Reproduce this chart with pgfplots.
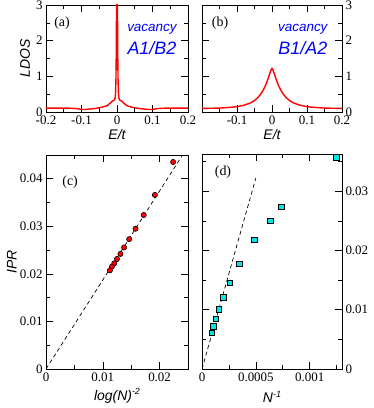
\documentclass[border=0pt]{standalone}
\usepackage{pgfplots}
\pgfplotsset{compat=1.18}
\usepackage{fontspec}
\setmainfont{Liberation Serif}
\newfontfamily\hv{Liberation Sans}
\definecolor{cyn}{RGB}{0,230,230}
\definecolor{rd}{RGB}{255,0,0}
\definecolor{bl}{RGB}{0,0,255}

\pgfplotsset{
  panel/.style={
    scale only axis,
    axis line style={black, line width=0.8pt},
    tick style={black, line width=0.6pt},
    major tick length=7bp, minor tick length=4bp,
    tick align=inside,
    xtick pos=both, ytick pos=both,
    xticklabel pos=bottom,
    scaled ticks=false,
    /pgf/number format/assume math mode=true,
    /pgf/number format/fixed,
    /pgf/number format/precision=4,
    tick label style={font=\fontsize{13}{15}\selectfont},
    every axis x label/.style={at={(axis description cs:0.5,#1)}, anchor=center,
      font=\hv\itshape\fontsize{14}{16}\selectfont},
  },
  panel/.default={-0.215},
  ylab/.style={every axis y label/.style={at={(axis description cs:#1,0.5)},
      rotate=90, anchor=center, font=\hv\itshape\fontsize{14}{16}\selectfont}},
}
\tikzset{
  tag/.style={font=\fontsize{14}{16}\selectfont, anchor=center},
  vac/.style={font=\hv\itshape\fontsize{13.5}{15}\selectfont, text=bl, anchor=center},
  vacb/.style={font=\hv\itshape\fontsize{18}{20}\selectfont, text=bl, anchor=center},
}

\begin{document}
\begin{tikzpicture}
\useasboundingbox (-46bp,-39bp) rectangle (328bp,369bp);

% (a)
\begin{axis}[panel, at={(0bp,257bp)}, anchor=south west,
  width=142bp, height=107bp,
  xmin=-0.2, xmax=0.2, ymin=0, ymax=3,
  xtick={-0.2,-0.1,0,0.1,0.2}, minor xtick={-0.15,-0.05,0.05,0.15},
  ytick={0,1,2,3}, minor ytick={0.5,1.5,2.5},
  xticklabels={-0.2,-0.1,0,0.1,0.2},
  yticklabel pos=left,
  xlabel={E/t}, ylabel={LDOS}, ylab=-0.148,
]
\addplot[rd, line width=1.4pt] coordinates {
(-0.2,0.11) (-0.18,0.11) (-0.16,0.11) (-0.14,0.11) (-0.12,0.10) (-0.11,0.09)
(-0.1,0.07) (-0.09,0.07) (-0.08,0.08) (-0.07,0.09) (-0.06,0.10) (-0.05,0.12)
(-0.04,0.14) (-0.03,0.17) (-0.025,0.2) (-0.02,0.24) (-0.016,0.28) (-0.013,0.31)
(-0.01,0.32) (-0.007,0.34) (-0.005,0.42) (-0.004,0.55) (-0.003,0.9) (-0.002,1.7)
(-0.001,3.6) (0,6) (0.001,3.6) (0.002,1.7) (0.003,0.9) (0.004,0.55) (0.005,0.42)
(0.007,0.34) (0.01,0.32) (0.013,0.31) (0.016,0.28) (0.02,0.24) (0.025,0.2)
(0.03,0.17) (0.04,0.14) (0.05,0.12) (0.06,0.10) (0.07,0.09) (0.08,0.08)
(0.09,0.07) (0.1,0.07) (0.11,0.09) (0.12,0.10) (0.14,0.11) (0.16,0.11)
(0.18,0.11) (0.2,0.11)};
\node[tag] at (rel axis cs:0.113,0.83) {(a)};
\node[vac] at (rel axis cs:0.746,0.776) {vacancy};
\node[vacb] at (rel axis cs:0.746,0.60) {A1/B2};
\end{axis}

% (b)
\begin{axis}[panel, at={(156bp,257bp)}, anchor=south west,
  width=140bp, height=107bp,
  xmin=-0.2, xmax=0.2, ymin=0, ymax=3,
  xtick={-0.2,-0.1,0,0.1,0.2}, minor xtick={-0.15,-0.05,0.05,0.15},
  ytick={0,1,2,3}, minor ytick={0.5,1.5,2.5},
  xticklabels={,-0.1,0,0.1,0.2},
  yticklabel pos=right,
  xlabel={E/t},
]
\addplot[rd, line width=1.4pt] coordinates {
(-0.2,0.10) (-0.15,0.11) (-0.12,0.13) (-0.1,0.15) (-0.08,0.19) (-0.06,0.26)
(-0.05,0.32) (-0.04,0.41) (-0.03,0.53) (-0.02,0.71) (-0.015,0.83) (-0.01,0.97)
(-0.006,1.09) (-0.003,1.17) (0,1.22) (0.003,1.17) (0.006,1.09) (0.01,0.97)
(0.015,0.83) (0.02,0.71) (0.03,0.53) (0.04,0.41) (0.05,0.32) (0.06,0.26)
(0.08,0.19) (0.1,0.15) (0.12,0.13) (0.15,0.11) (0.2,0.10)};
\node[tag] at (rel axis cs:0.129,0.83) {(b)};
\node[vac] at (rel axis cs:0.72,0.776) {vacancy};
\node[vacb] at (rel axis cs:0.72,0.60) {B1/A2};
\end{axis}

% (c)
\begin{axis}[panel=-0.126, at={(0bp,0bp)}, anchor=south west,
  width=142bp, height=214bp,
  xmin=0, xmax=0.025, ymin=0, ymax=0.045,
  xtick={0,0.01,0.02}, minor xtick={0.005,0.015,0.025},
  ytick={0,0.01,0.02,0.03,0.04}, minor ytick={0.005,0.015,0.025,0.035},
  xticklabels={0,0.01,0.02}, yticklabels={0,0.01,0.02,0.03,0.04},
  yticklabel pos=left,
  xlabel={log(N)\raisebox{0.8ex}{\fontsize{9}{10}\selectfont -2}}, ylabel={IPR}, ylab=-0.24,
]
\addplot[black, line width=0.7pt, dash pattern=on 4pt off 3pt] coordinates {(0,0) (0.025,0.0468)};
\addplot[only marks, mark=*, mark size=2.6bp, mark options={fill=rd, draw=black, line width=0.6pt}] coordinates {
(0.02238,0.04353) (0.01917,0.03661) (0.01720,0.03238) (0.01577,0.02949)
(0.01464,0.02730) (0.01375,0.02554) (0.01310,0.02420) (0.01250,0.02314)
(0.01202,0.02222) (0.01161,0.02152) (0.01125,0.02074)};
\node[tag] at (rel axis cs:0.17,0.874) {(c)};
\end{axis}

% (d)
\begin{axis}[panel=-0.13, at={(156bp,0bp)}, anchor=south west,
  width=140bp, height=215bp,
  xmin=0, xmax=0.0013, ymin=0, ymax=0.0363,
  xtick={0,0.0005,0.001}, minor xtick={0.00025,0.00075,0.00125},
  ytick={0,0.01,0.02,0.03}, minor ytick={0.005,0.015,0.025,0.035},
  xticklabels={0,0.0005,0.001}, yticklabels={0,0.01,0.02,0.03},
  yticklabel pos=right,
  xlabel={N\raisebox{0.8ex}{\fontsize{9}{10}\selectfont -1}},
]
\addplot[black, line width=0.7pt, dash pattern=on 4pt off 3pt] coordinates {(0,0) (0.0005,0.03225)};
\addplot[only marks, mark=square*, mark size=2.8bp, mark options={fill=cyn, draw=black, line width=0.6pt}] coordinates {
(0.001248,0.03573) (0.000736,0.02741) (0.000635,0.02504) (0.000485,0.02183)
(0.000344,0.01773) (0.000258,0.01458) (0.000199,0.01210) (0.000156,0.01007)
(0.000129,0.00850) (0.000107,0.00720) (0.000092,0.00613)};
\node[tag] at (rel axis cs:0.15,0.916) {(d)};
\end{axis}
\end{tikzpicture}
\end{document}
